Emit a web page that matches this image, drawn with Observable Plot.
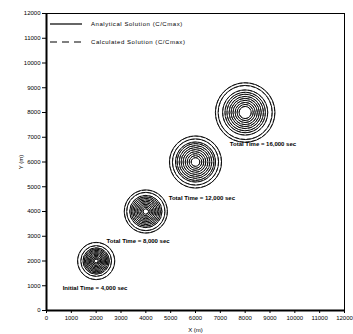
<!DOCTYPE html>
<html>
<head>
<meta charset="utf-8">
<script src="https://cdn.jsdelivr.net/npm/d3@7"></script>
<script src="https://cdn.jsdelivr.net/npm/@observablehq/plot@0.6"></script>
<style>
  html, body { margin: 0; padding: 0; background: #fff; }
  #wrap { position: relative; width: 353px; height: 334px; font-family: "Liberation Sans", Arial, sans-serif; }
  #legend { position: absolute; left: 0; top: 0; }
</style>
</head>
<body>
<div id="wrap"></div>
<script>
// Plume centres (m)
const plumeX = [2000, 4000, 6000, 8000];
const plumeY = [2000, 4000, 6000, 8000];
// Contour radii (m), analytical solution, one list per plume
const analytical1 = [750, 620, 530, 480, 430, 380, 330, 280, 230, 180, 130, 80];
const analytical2 = [870, 770, 650, 590, 530, 470, 410, 350, 290, 230, 170, 110];
const analytical3 = [1050, 930, 806, 740, 660, 580, 500, 415, 335, 255, 175];
const analytical4 = [1200, 1090, 910, 815, 735, 650, 570, 490, 405, 325, 245];
// Contour radii (m), calculated solution
const calculated1 = [740, 612, 525, 475, 425, 376, 327, 277, 228, 178, 128, 78];
const calculated2 = [860, 762, 645, 585, 526, 466, 406, 347, 287, 228, 168, 108];
const calculated3 = [1040, 922, 800, 735, 655, 576, 496, 412, 332, 252, 172];
const calculated4 = [1190, 1080, 903, 808, 728, 644, 565, 486, 401, 321, 241];
// Time annotations
const labelText = ["Initial Time = 4,000 sec", "Total Time = 8,000 sec", "Total Time = 12,000 sec", "Total Time = 16,000 sec"];
const labelX = [650, 2420, 4920, 7380];
const labelY = [890, 2790, 4525, 6720];
// Axis ticks
const ticks = [0, 1000, 2000, 3000, 4000, 5000, 6000, 7000, 8000, 9000, 10000, 11000, 12000];
const legendLabels = ["Analytical Solution (C/Cmax)", "Calculated Solution (C/Cmax)"];

const analytical = [analytical1, analytical2, analytical3, analytical4];
const calculated = [calculated1, calculated2, calculated3, calculated4];
const ringsA = analytical.flatMap((rs, i) => rs.map(r => ({x: plumeX[i], y: plumeY[i], r})));
const ringsC = calculated.flatMap((rs, i) => rs.map(r => ({x: plumeX[i], y: plumeY[i], r})));
const labels = labelText.map((t, i) => ({t, x: labelX[i], y: labelY[i]}));

const W = 353, H = 334, mL = 46, mR = 9, mT = 13, mB = 24;
const font = "Liberation Sans, Arial, sans-serif";

const chart = Plot.plot({
  width: W, height: H,
  marginLeft: mL, marginRight: mR, marginTop: mT, marginBottom: mB,
  style: {fontFamily: font, fontSize: "6px", color: "#000", background: "#fff"},
  x: {domain: [0, 12000], label: null},
  y: {domain: [0, 12000], label: null},
  r: {type: "linear", domain: [0, 12000], range: [0, W - mL - mR]},
  marks: [
    Plot.frame({stroke: "#000", strokeWidth: 1}),
    Plot.ruleX([0], {stroke: "#000", strokeWidth: 2}),
    Plot.ruleY([0], {stroke: "#000", strokeWidth: 2}),
    Plot.dot(ringsA, {x: "x", y: "y", r: "r", stroke: "#000", strokeWidth: 0.9, fill: "none"}),
    Plot.dot(ringsC, {x: "x", y: "y", r: "r", stroke: "#000", strokeWidth: 0.7, strokeDasharray: "4,2", fill: "none"}),
    Plot.text(labels, {x: "x", y: "y", text: "t", textAnchor: "start", fontSize: 6, fontWeight: "bold", fill: "#000", letterSpacing: "0.4px"}),
    Plot.axisX({ticks, tickFormat: d => String(d), tickSize: 3, tickPadding: 2, label: "X (m)", labelArrow: "none", labelAnchor: "center", labelOffset: 21, fontSize: 6}),
    Plot.axisY({ticks, tickFormat: d => String(d), tickSize: 4, tickPadding: 2, label: "Y (m)", labelArrow: "none", labelAnchor: "center", labelOffset: 28, fontSize: 6})
  ]
});
document.getElementById("wrap").appendChild(chart);

// Legend inside the plot area (top-left)
const ns = "http://www.w3.org/2000/svg";
const leg = document.createElementNS(ns, "svg");
leg.setAttribute("id", "legend");
leg.setAttribute("width", "200");
leg.setAttribute("height", "50");
legendLabels.forEach((lab, i) => {
  const y = 24 + i * 18;
  const ln = document.createElementNS(ns, "line");
  ln.setAttribute("x1", "50"); ln.setAttribute("x2", "82");
  ln.setAttribute("y1", String(y)); ln.setAttribute("y2", String(y));
  ln.setAttribute("stroke", "#000");
  ln.setAttribute("stroke-width", "1.2");
  if (i === 1) ln.setAttribute("stroke-dasharray", "7 5");
  leg.appendChild(ln);
  const tx = document.createElementNS(ns, "text");
  tx.setAttribute("x", "91"); tx.setAttribute("y", String(y + 2));
  tx.setAttribute("font-size", "6");
  tx.setAttribute("font-family", font);
  tx.setAttribute("letter-spacing", "0.55");
  tx.textContent = lab;
  leg.appendChild(tx);
});
document.getElementById("wrap").appendChild(leg);
</script>
</body>
</html>
